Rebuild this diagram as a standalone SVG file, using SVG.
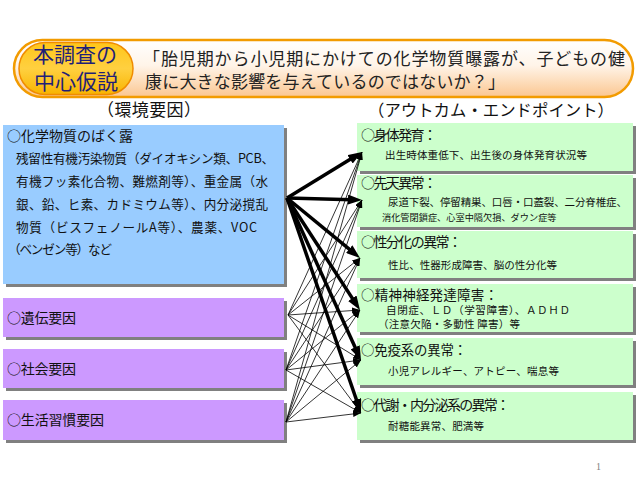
<svg xmlns="http://www.w3.org/2000/svg" width="640" height="480" viewBox="0 0 640 480">
<defs>
<style>
text{font-family:"Noto Sans CJK JP","Noto Sans CJK SC",sans-serif;fill:#111}
.hd{font-size:14px}
.dt{font-size:10.5px}
.bd{font-size:12.6px}
.sh{fill:#808080}
.blue{fill:#99CCFF}
.pur{fill:#CC99FF}
.grn{fill:#CCFFCC}
.thick{stroke:#000;stroke-width:3.5;fill:none;marker-end:url(#bigArrow)}
.thin{stroke:#000;stroke-width:0.8;fill:none;marker-end:url(#smallArrow)}
</style>
<linearGradient id="pillGrad" x1="0" y1="0" x2="0" y2="1">
<stop offset="0" stop-color="#FFFFFF"/>
<stop offset="0.45" stop-color="#FFF4E8"/>
<stop offset="1" stop-color="#FBC690"/>
</linearGradient>
<linearGradient id="innerGrad" x1="0" y1="0" x2="0" y2="1">
<stop offset="0" stop-color="#FFC61A"/>
<stop offset="0.5" stop-color="#FFD040"/>
<stop offset="1" stop-color="#F8B400"/>
</linearGradient>
<marker id="bigArrow" markerUnits="userSpaceOnUse" markerWidth="14" markerHeight="10" refX="4" refY="5" orient="auto">
<path d="M0,0 L14,5 L0,10 z" fill="#000"/>
</marker>
<marker id="smallArrow" markerUnits="userSpaceOnUse" markerWidth="8" markerHeight="6" refX="8" refY="3" orient="auto">
<path d="M0,0 L8,3 L0,6 z" fill="#000"/>
</marker>
</defs>
<rect width="640" height="480" fill="#fff"/>

<g id="hypothesis">
<rect x="14" y="40" width="619" height="57" rx="28.5" fill="url(#pillGrad)" stroke="#F29B00" stroke-width="2.5"/>
<rect x="19" y="42.5" width="114" height="52" rx="26" fill="url(#innerGrad)" stroke="#F08C00" stroke-width="1.5"/>
<text x="33" y="62" font-size="21" style="fill:#1F1F78" textLength="84">本調査の</text>
<text x="34" y="89" font-size="21" style="fill:#1F1F78" textLength="84">中心仮説</text>
<text x="143" y="65" font-size="17" textLength="482" style="fill:#222">「胎児期から小児期にかけての化学物質曝露が、子どもの健</text>
<text x="145" y="88" font-size="17" textLength="360" style="fill:#222">康に大きな影響を与えているのではないか？」</text>
</g>

<text x="97" y="116" font-size="17" textLength="104">（環境要因）</text>
<text x="368" y="116" font-size="16.4" textLength="246">（アウトカム・エンドポイント）</text>

<g id="env-chemical">
<rect class="sh" x="6" y="128" width="281" height="159"/>
<rect class="blue" x="3" y="125" width="281" height="159"/>
<text class="hd" x="7" y="141" textLength="126">○化学物質のばく露</text>
<text class="bd" x="16" y="163" textLength="258">残留性有機汚染物質（ダイオキシン類、PCB、</text>
<text class="bd" x="16" y="186" textLength="252">有機フッ素化合物、難燃剤等）、重金属（水</text>
<text class="bd" x="16" y="209" textLength="252">銀、鉛、ヒ素、カドミウム等）、内分泌撹乱</text>
<text class="bd" x="16" y="232" textLength="241">物質（ビスフェノールA等）、農薬、VOC</text>
<text class="bd" x="8" y="254" textLength="104">（ベンゼン等）など</text>
</g>

<g id="env-genetic">
<rect class="sh" x="6" y="301" width="281" height="39"/>
<rect class="pur" x="3" y="298" width="281" height="39"/>
<text class="hd" x="7" y="323" textLength="69">○遺伝要因</text>
</g>
<g id="env-social">
<rect class="sh" x="6" y="352" width="281" height="39"/>
<rect class="pur" x="3" y="349" width="281" height="39"/>
<text class="hd" x="7" y="374" textLength="69">○社会要因</text>
</g>
<g id="env-lifestyle">
<rect class="sh" x="6" y="403" width="281" height="40"/>
<rect class="pur" x="3" y="400" width="281" height="40"/>
<text class="hd" x="7" y="425" textLength="97">○生活習慣要因</text>
</g>

<g id="out-growth">
<rect class="sh" x="360" y="126" width="276" height="48"/>
<rect class="grn" x="357" y="123" width="276" height="48"/>
<text class="hd" x="361" y="140" textLength="76">○身体発育：</text>
<text class="dt" x="385" y="159" textLength="202">出生時体重低下、出生後の身体発育状況等</text>
</g>
<g id="out-congenital">
<rect class="sh" x="360" y="178" width="276" height="52"/>
<rect class="grn" x="357" y="175" width="276" height="52"/>
<text class="hd" x="361" y="188" textLength="76">○先天異常：</text>
<text class="dt" x="388" y="206" textLength="239">尿道下裂、停留精巣、口唇・口蓋裂、二分脊椎症、</text>
<text x="382" y="221" font-size="9.2">消化管閉鎖症、心室中隔欠損、ダウン症等</text>
</g>
<g id="out-sexdiff">
<rect class="sh" x="360" y="234" width="276" height="47"/>
<rect class="grn" x="357" y="231" width="276" height="47"/>
<text class="hd" x="361" y="247" textLength="101">○性分化の異常：</text>
<text class="dt" x="388" y="269" textLength="169">性比、性器形成障害、脳の性分化等</text>
</g>
<g id="out-neuro">
<rect class="sh" x="360" y="287" width="276" height="48"/>
<rect class="grn" x="357" y="284" width="276" height="48"/>
<text x="361" y="300" font-size="13.5" textLength="137">○精神神経発達障害：</text>
<text x="386" y="314" font-size="10.6" textLength="184">自閉症、ＬＤ（学習障害）、ＡＤＨＤ</text>
<text class="dt" x="378" y="328" textLength="142">（注意欠陥・多動性 障害）等</text>
</g>
<g id="out-immune">
<rect class="sh" x="360" y="341" width="276" height="47"/>
<rect class="grn" x="357" y="338" width="276" height="47"/>
<text x="361" y="355" font-size="13.4" textLength="106">○免疫系の異常：</text>
<text class="dt" x="388" y="375" textLength="171">小児アレルギー、アトピー、喘息等</text>
</g>
<g id="out-metabolic">
<rect class="sh" x="360" y="395" width="276" height="48"/>
<rect class="grn" x="357" y="392" width="276" height="48"/>
<text class="hd" x="361" y="410" textLength="149">○代謝・内分泌系の異常：</text>
<text class="dt" x="388" y="430" textLength="96">耐糖能異常、肥満等</text>
</g>

<g id="connectors">
<line class="thin" x1="288" y1="315" x2="362" y2="152"/>
<line class="thin" x1="288" y1="315" x2="362" y2="200"/>
<line class="thin" x1="288" y1="315" x2="360" y2="258"/>
<line class="thin" x1="288" y1="315" x2="360" y2="310"/>
<line class="thin" x1="288" y1="315" x2="361" y2="360"/>
<line class="thin" x1="288" y1="315" x2="361" y2="413"/>
<line class="thin" x1="286" y1="370" x2="362" y2="152"/>
<line class="thin" x1="286" y1="370" x2="362" y2="200"/>
<line class="thin" x1="286" y1="370" x2="360" y2="258"/>
<line class="thin" x1="286" y1="370" x2="360" y2="310"/>
<line class="thin" x1="286" y1="370" x2="361" y2="360"/>
<line class="thin" x1="286" y1="370" x2="361" y2="413"/>
<line class="thin" x1="286" y1="422" x2="362" y2="152"/>
<line class="thin" x1="286" y1="422" x2="362" y2="200"/>
<line class="thin" x1="286" y1="422" x2="360" y2="258"/>
<line class="thin" x1="286" y1="422" x2="360" y2="310"/>
<line class="thin" x1="286" y1="422" x2="361" y2="360"/>
<line class="thin" x1="286" y1="422" x2="361" y2="413"/>
<line class="thick" x1="287" y1="198" x2="353.5" y2="157.2"/>
<line class="thick" x1="287" y1="198" x2="352" y2="199.7"/>
<line class="thick" x1="287" y1="198" x2="352.3" y2="251.7"/>
<line class="thick" x1="287" y1="198" x2="354.5" y2="301.6"/>
<line class="thick" x1="287" y1="198" x2="356.8" y2="350.9"/>
<line class="thick" x1="287" y1="198" x2="357.7" y2="403.5"/>
</g>

<text x="596" y="470" font-size="10" style="fill:#808080;font-family:'Liberation Serif',serif">1</text>
</svg>
